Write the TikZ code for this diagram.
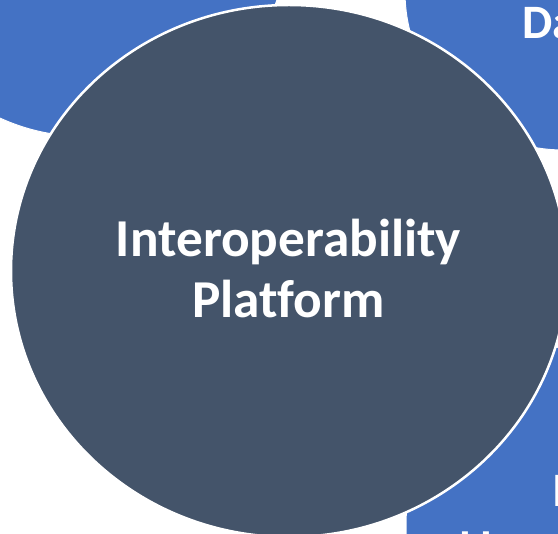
\documentclass[tikz,border=0pt]{standalone}
\usepackage{fontspec}
\setmainfont{Carlito}[Ligatures=NoCommon]
\usetikzlibrary{shapes.geometric}
\definecolor{hubdark}{HTML}{44546A}
\definecolor{satblue}{HTML}{4472C4}
\tikzset{
  sat/.style={circle, fill=satblue, draw=white, line width=1pt, inner sep=0pt, outer sep=0pt},
  hub/.style={ellipse, fill=hubdark, draw=white, line width=2.5pt, inner sep=0pt, outer sep=0pt},
  hubtext/.style={text=white, font=\fontsize{53.3}{61}\selectfont\bfseries, inner sep=0pt, anchor=base},
  sattext/.style={text=white, font=\fontsize{48}{58}\selectfont\bfseries, inner sep=0pt, anchor=base west}
}
\begin{document}
\begin{tikzpicture}[x=1pt,y=-1pt]
\useasboundingbox (0,0) rectangle (558,534);
\clip (0,0) rectangle (558,534);
\node[sat, minimum size=407pt] (tl) at (84.7,-67) {};
\node[sat, minimum size=316pt] (tr) at (563,-8) {};
\node[sat, minimum size=360pt] (br) at (586,525) {};
\node[sattext] (trtext) at (522,39) {Da};
\node[sattext] (brtext) at (552,507) {I};
\node[sattext] (brl1) at (459,566) {l};
\node[sattext] (brl2) at (480,566) {l};
\node[hub, minimum width=556pt, minimum height=532pt] (hub) at (289,271) {};
\node[hubtext] (title1) at (288.5,257) {Interoperability};
\node[hubtext] (title2) at (288.5,318) {Platform};
\end{tikzpicture}
\end{document}
